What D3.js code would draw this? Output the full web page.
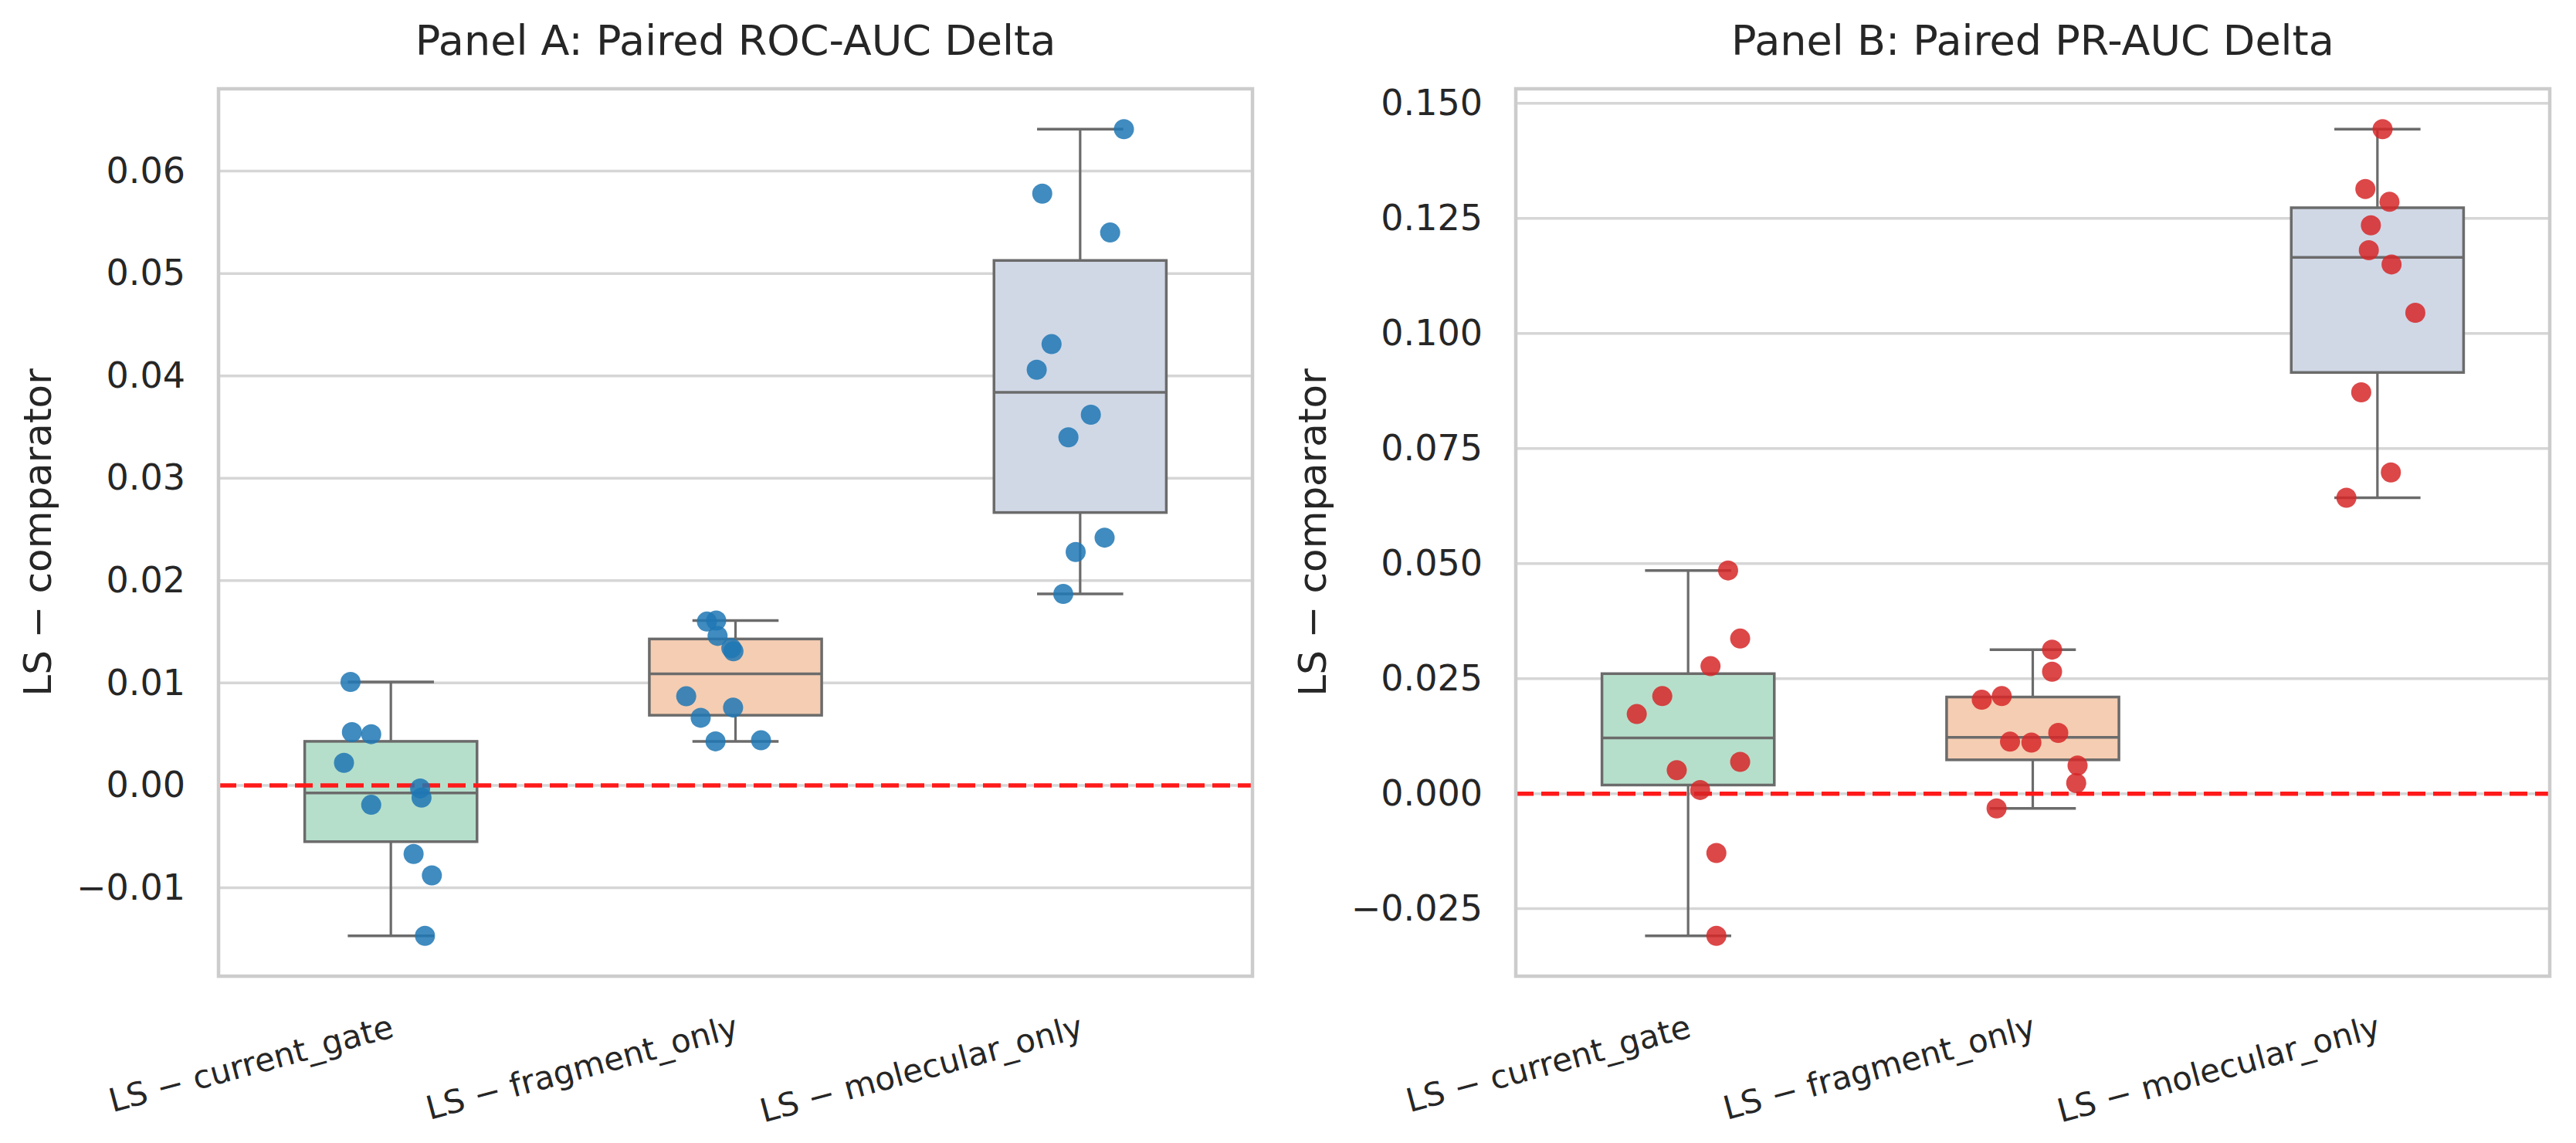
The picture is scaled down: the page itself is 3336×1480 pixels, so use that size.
<!DOCTYPE html>
<html>
<head>
<meta charset="utf-8">
<script src="https://cdn.jsdelivr.net/npm/d3@7"></script>
<style>
  html, body { margin: 0; padding: 0; background: #ffffff; }
  svg { display: block; font-family: "DejaVu Sans", sans-serif; }
</style>
</head>
<body>
<svg id="chart" width="3336" height="1480"></svg>
<script>
// ---------------- data ----------------
const categories = ["LS \u2212 current_gate", "LS \u2212 fragment_only", "LS \u2212 molecular_only"];

// Panel A: paired ROC-AUC delta
const rocCurrentGate   = [0.0101, 0.0052, 0.0050, 0.0022, -0.0003, -0.0012, -0.0019, -0.0067, -0.0088, -0.0147];
const rocFragmentOnly  = [0.0161, 0.0160, 0.0146, 0.0134, 0.0131, 0.0087, 0.0076, 0.0066, 0.0044, 0.0043];
const rocMolecularOnly = [0.0641, 0.0578, 0.0540, 0.0431, 0.0406, 0.0362, 0.0340, 0.0242, 0.0228, 0.0187];

// Panel B: paired PR-AUC delta
const prCurrentGate   = [0.0485, 0.0337, 0.0277, 0.0212, 0.0173, 0.0069, 0.0051, 0.0008, -0.0129, -0.0309];
const prFragmentOnly  = [0.0313, 0.0265, 0.0212, 0.0204, 0.0132, 0.0113, 0.0111, 0.0061, 0.0023, -0.0032];
const prMolecularOnly = [0.1444, 0.1314, 0.1286, 0.1235, 0.1181, 0.1150, 0.1045, 0.0872, 0.0698, 0.0643];

// strip-plot jitter (fraction of category width)
const rocCurrentGateJitter   = [-0.117, -0.113, -0.057, -0.136, 0.085, 0.089, -0.057, 0.066, 0.119, 0.099];
const rocFragmentOnlyJitter  = [-0.056, -0.083, -0.052, -0.012, -0.006, -0.143, -0.007, -0.101, 0.074, -0.058];
const rocMolecularOnlyJitter = [0.127, -0.110, 0.087, -0.083, -0.126, 0.031, -0.034, 0.071, -0.013, -0.049];
const prCurrentGateJitter    = [0.116, 0.151, 0.065, -0.075, -0.149, 0.151, -0.033, 0.035, 0.082, 0.082];
const prFragmentOnlyJitter   = [0.056, 0.056, -0.090, -0.148, 0.074, -0.066, -0.004, 0.130, 0.126, -0.105];
const prMolecularOnlyJitter  = [0.015, -0.035, 0.035, -0.019, -0.025, 0.041, 0.110, -0.047, 0.039, -0.090];

const yTicksA = [-0.01, 0.00, 0.01, 0.02, 0.03, 0.04, 0.05, 0.06];
const yTicksB = [-0.025, 0.000, 0.025, 0.050, 0.075, 0.100, 0.125, 0.150];

const titles = ["Panel A: Paired ROC-AUC Delta", "Panel B: Paired PR-AUC Delta"];
const yLabel = "LS \u2212 comparator";

// ---------------- styling ----------------
const boxFills = ["#b6dfcb", "#f5cdb2", "#d0d8e6"];
const textColor = "#262626";
const gridColor = "#d6d6d6";
const frameColor = "#cccccc";
const boxLine = "#6b6b6b";

const svg = d3.select("#chart");
svg.append("rect").attr("width", 3336).attr("height", 1480).attr("fill", "#ffffff");

const panels = [
  { title: titles[0], series: [rocCurrentGate, rocFragmentOnly, rocMolecularOnly],
    jitter: [rocCurrentGateJitter, rocFragmentOnlyJitter, rocMolecularOnlyJitter],
    ticks: yTicksA, fmt: d3.format(".2f"), pointColor: "#1f77b4",
    left: 283, right: 1622, labelX: 66 },
  { title: titles[1], series: [prCurrentGate, prFragmentOnly, prMolecularOnly],
    jitter: [prCurrentGateJitter, prFragmentOnlyJitter, prMolecularOnlyJitter],
    ticks: yTicksB, fmt: d3.format(".3f"), pointColor: "#d62728",
    left: 1963, right: 3302, labelX: 1717 }
];
const plotTop = 115, plotBottom = 1264;

function boxStats(vals) {
  const s = vals.slice().sort(d3.ascending);
  const q1 = d3.quantileSorted(s, 0.25), med = d3.quantileSorted(s, 0.5), q3 = d3.quantileSorted(s, 0.75);
  const iqr = q3 - q1;
  const lo = d3.min(s.filter(v => v >= q1 - 1.5 * iqr));
  const hi = d3.max(s.filter(v => v <= q3 + 1.5 * iqr));
  return { q1, med, q3, lo, hi };
}

panels.forEach(p => {
  const g = svg.append("g");
  const all = p.series.flat();
  const mn = d3.min(all), mx = d3.max(all), pad = (mx - mn) * 0.05;
  const y = d3.scaleLinear().domain([mn - pad, mx + pad]).range([plotBottom, plotTop]);
  const x = d3.scaleBand().domain(categories).range([p.left, p.right]).paddingInner(0).paddingOuter(0);
  const bw = x.bandwidth();

  // grid
  g.append("g").selectAll("line").data(p.ticks).join("line")
    .attr("x1", p.left).attr("x2", p.right)
    .attr("y1", d => y(d)).attr("y2", d => y(d))
    .attr("stroke", gridColor).attr("stroke-width", 3.5);

  // y axis tick labels via d3 axis
  const yAxis = d3.axisLeft(y).tickValues(p.ticks).tickFormat(p.fmt).tickSize(0).tickPadding(43);
  const ya = g.append("g").attr("transform", `translate(${p.left},0)`).call(yAxis);
  ya.select(".domain").remove();
  ya.selectAll("text").attr("font-size", 46).attr("fill", textColor)
    .attr("font-family", "DejaVu Sans");

  // x axis tick labels
  const xAxis = d3.axisBottom(x).tickSize(0).tickPadding(0);
  const xa = g.append("g").attr("transform", `translate(0,${plotBottom})`).call(xAxis);
  xa.select(".domain").remove();
  xa.selectAll("text")
    .attr("font-size", 42).attr("fill", textColor).attr("font-family", "DejaVu Sans")
    .attr("text-anchor", "end").attr("y", 0).attr("dy", "0.72em")
    .attr("transform", "translate(-2,49) rotate(-15)");

  // boxes
  p.series.forEach((vals, i) => {
    const st = boxStats(vals);
    const cx = x(categories[i]) + bw / 2;
    const w = bw * 0.5, cw = bw * 0.25;
    const bg = g.append("g");
    bg.append("line").attr("x1", cx).attr("x2", cx).attr("y1", y(st.q3)).attr("y2", y(st.hi))
      .attr("stroke", boxLine).attr("stroke-width", 3.2);
    bg.append("line").attr("x1", cx).attr("x2", cx).attr("y1", y(st.q1)).attr("y2", y(st.lo))
      .attr("stroke", boxLine).attr("stroke-width", 3.2);
    bg.append("line").attr("x1", cx - cw / 2).attr("x2", cx + cw / 2).attr("y1", y(st.hi)).attr("y2", y(st.hi))
      .attr("stroke", boxLine).attr("stroke-width", 3.5);
    bg.append("line").attr("x1", cx - cw / 2).attr("x2", cx + cw / 2).attr("y1", y(st.lo)).attr("y2", y(st.lo))
      .attr("stroke", boxLine).attr("stroke-width", 3.5);
    bg.append("rect").attr("x", cx - w / 2).attr("width", w)
      .attr("y", y(st.q3)).attr("height", y(st.q1) - y(st.q3))
      .attr("fill", boxFills[i]).attr("stroke", boxLine).attr("stroke-width", 3.5);
    bg.append("line").attr("x1", cx - w / 2).attr("x2", cx + w / 2).attr("y1", y(st.med)).attr("y2", y(st.med))
      .attr("stroke", boxLine).attr("stroke-width", 3.5);
  });

  // zero reference line
  g.append("line").attr("x1", p.left).attr("x2", p.right).attr("y1", y(0)).attr("y2", y(0))
    .attr("stroke", "#ff1a1a").attr("stroke-width", 5.5).attr("stroke-dasharray", "23,10");

  // points
  p.series.forEach((vals, i) => {
    const cx = x(categories[i]) + bw / 2;
    g.append("g").selectAll("circle").data(vals).join("circle")
      .attr("cx", (d, j) => cx + p.jitter[i][j] * bw)
      .attr("cy", d => y(d))
      .attr("r", 13)
      .attr("fill", p.pointColor).attr("fill-opacity", 0.85);
  });

  // frame
  g.append("rect").attr("x", p.left).attr("y", plotTop).attr("width", p.right - p.left).attr("height", plotBottom - plotTop)
    .attr("fill", "none").attr("stroke", frameColor).attr("stroke-width", 4.5);

  // title
  g.append("text").attr("x", (p.left + p.right) / 2).attr("y", 71)
    .attr("text-anchor", "middle").attr("font-size", 54).attr("fill", textColor).text(p.title);

  // y label
  g.append("text").attr("transform", `translate(${p.labelX},${(plotTop + plotBottom) / 2}) rotate(-90)`)
    .attr("text-anchor", "middle").attr("font-size", 50).attr("fill", textColor).text(yLabel);
});
</script>
</body>
</html>
